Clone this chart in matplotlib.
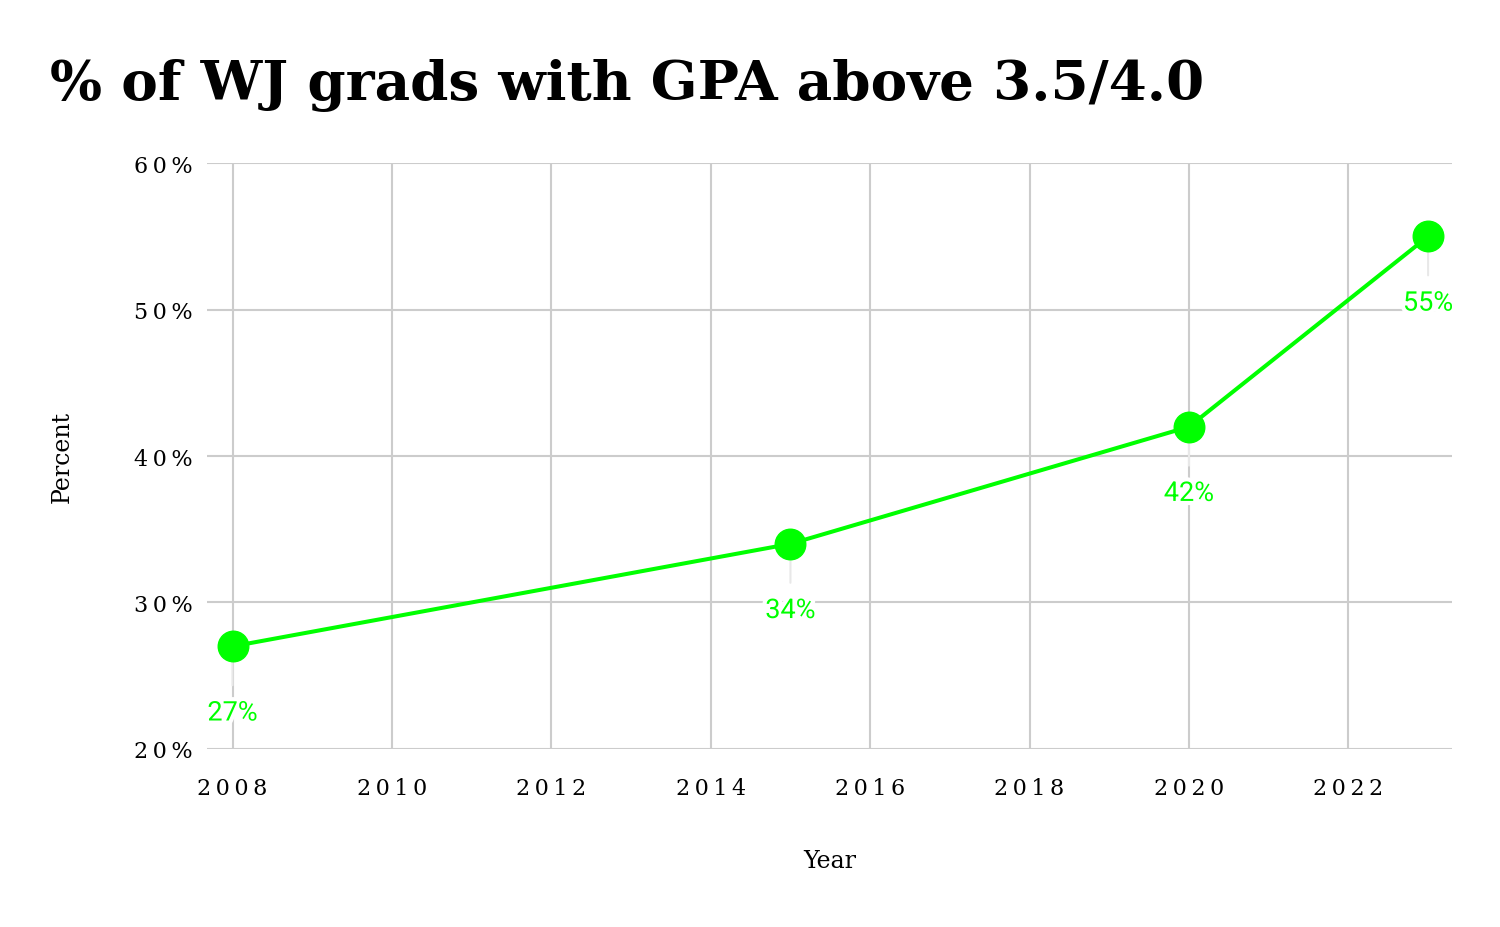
import matplotlib
matplotlib.use("Agg")
import matplotlib.pyplot as plt
import matplotlib.patheffects as pe

years = [2008, 2015, 2020, 2023]
pct = [27, 34, 42, 55]
xticks = [2008, 2010, 2012, 2014, 2016, 2018, 2020, 2022]
yticks = [20, 30, 40, 50, 60]

green = "#00ff00"
grid_c = "#cccccc"


def spaced(s):
    # loose tracking like the original tick labels
    return "\u2009".join(s)


fig = plt.figure(figsize=(15, 9.28), dpi=100)
ax = fig.add_axes([0.138, 0.192, 0.830, 0.631])

ax.plot(years, pct, color=green, linewidth=2.9, marker="o", markersize=22,
        zorder=4, solid_capstyle="round")

for x, y in zip(years, pct):
    # short connector from the dot down to its label
    ax.annotate("", xy=(x, y), xytext=(0, -28), textcoords="offset points",
                xycoords="data",
                arrowprops=dict(arrowstyle="-", color="#e8e8e8", lw=1.5,
                                shrinkA=0, shrinkB=10),
                zorder=2)
    ax.annotate(f"{y}%", xy=(x, y), xytext=(0, -48), textcoords="offset points",
                ha="center", va="center", color=green, fontsize=19.5,
                family="Roboto", zorder=3,
                path_effects=[pe.withStroke(linewidth=6, foreground="white")])

ax.set_xlim(2007.68, 2023.3)
ax.set_ylim(20, 60)
ax.set_xticks(xticks)
ax.set_xticklabels([spaced(str(v)) for v in xticks])
ax.set_yticks(yticks)
ax.set_yticklabels([spaced(f"{v}%") for v in yticks])
ax.grid(True, color=grid_c, linewidth=1.5)
ax.set_axisbelow(True)
for s in ax.spines.values():
    s.set_visible(False)
ax.tick_params(length=0, labelsize=16, pad=10)
for lab in ax.get_xticklabels() + ax.get_yticklabels():
    lab.set_family(["DejaVu Serif", "DejaVu Sans"])
ax.tick_params(axis="x", pad=20)

ax.set_xlabel("Year", family="DejaVu Serif", fontsize=17, labelpad=36)
ax.set_ylabel("Percent", family="DejaVu Serif", fontsize=17, labelpad=44)

fig.text(0.033, 0.908, "% of WJ grads with GPA above 3.5/4.0", family="DejaVu Serif",
         fontweight="bold", fontsize=39.5, va="center", ha="left")

fig.savefig("out.png", dpi=100, facecolor="white")
plt.close(fig)
